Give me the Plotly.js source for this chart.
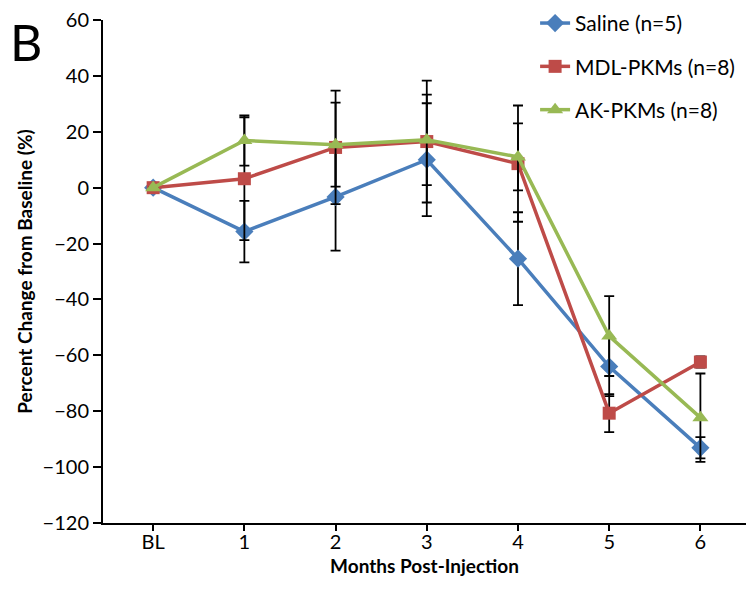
<!DOCTYPE html>
<html>
<head>
<meta charset="utf-8">
<script src="https://cdn.plot.ly/plotly-3.0.1.min.js"></script>
<style>html,body{margin:0;padding:0;background:#fff;}#chart{width:749px;height:614px;}</style>
</head>
<body>
<div id="chart"></div>
<script>
const categories = ["BL", "1", "2", "3", "4", "5", "6"];
const salineVals = [0, -15.7, -3.3, 10.0, -25.4, -64.0, -93.1];
const salineErr  = [0, 11.0, 19.2, 20.2, 16.6, 10.6, 3.8];
const mdlVals    = [0, 3.2, 14.4, 16.5, 8.6, -80.7, -62.4];
const mdlErr     = [0, 22.0, 20.3, 21.8, 20.8, 6.8, 2.0];
const akVals     = [0, 16.9, 15.4, 17.1, 11.0, -53.1, -82.3];
const akErr      = [0, 9.0, 15.0, 16.2, 12.0, 14.3, 15.8];
const seriesNames = ["Saline (n=5)", "MDL-PKMs (n=8)", "AK-PKMs (n=8)"];

const xIdx = categories.map((c, i) => i);
const font = "Lato, 'Open Sans', 'Liberation Sans', sans-serif";

function tr(name, vals, errs, color, symbol, size, grp) {
  return {
    type: "scatter", mode: "lines+markers", name: name, legendgroup: grp,
    x: xIdx, y: vals,
    line: {color: color, width: 3.5},
    marker: {color: color, symbol: symbol, size: size},
    error_y: {type: "data", array: errs, visible: true, color: "#000", thickness: 1.8, width: 5}
  };
}

const data = [
  tr(seriesNames[0], salineVals, salineErr, "#4A7EBB", "diamond", 14, "a"),
  tr(seriesNames[1], mdlVals, mdlErr, "#BE4B48", "square", 13, "b"),
  tr(seriesNames[2], akVals, akErr, "#98B954", "triangle-up", 14, "c")
];

const layout = {
  width: 749, height: 614,
  margin: {l: 103, r: 3, t: 20, b: 91},
  paper_bgcolor: "#fff", plot_bgcolor: "#fff",
  font: {family: font, size: 19, color: "#000"},
  showlegend: true,
  legend: {
    x: 0.672, y: 1.034, xanchor: "left", yanchor: "top",
    font: {family: font, size: 21, color: "#000"},
    tracegroupgap: 13, bgcolor: "rgba(0,0,0,0)"
  },
  xaxis: {
    range: [-0.55, 6.5],
    tickmode: "array", tickvals: xIdx, ticktext: categories,
    showgrid: false, zeroline: false,
    showline: true, linecolor: "#000", linewidth: 2,
    ticks: "",
    minor: {ticks: "outside", ticklen: 6, tickwidth: 2, tickcolor: "#000", tick0: 0, dtick: 1, showgrid: false},
    tickfont: {family: font, size: 20},
    title: {text: "<b>Months Post-Injection</b>", font: {family: font, size: 19}, standoff: 8}
  },
  yaxis: {
    range: [-120, 60], dtick: 20,
    showgrid: false, zeroline: false,
    showline: true, linecolor: "#000", linewidth: 2,
    ticks: "outside", ticklen: 8, tickwidth: 2, tickcolor: "#000",
    tickfont: {family: font, size: 20},
    title: {text: "<b>Percent Change from Baseline (%)</b>", font: {family: font, size: 19}, standoff: 5}
  },
  annotations: [{
    text: "B", xref: "paper", yref: "paper", x: -0.148, y: 0.956,
    xanchor: "left", yanchor: "middle", showarrow: false,
    font: {family: font, size: 50, color: "#000"}
  }]
};

Plotly.newPlot("chart", data, layout, {displayModeBar: false, staticPlot: true});
</script>
</body>
</html>
